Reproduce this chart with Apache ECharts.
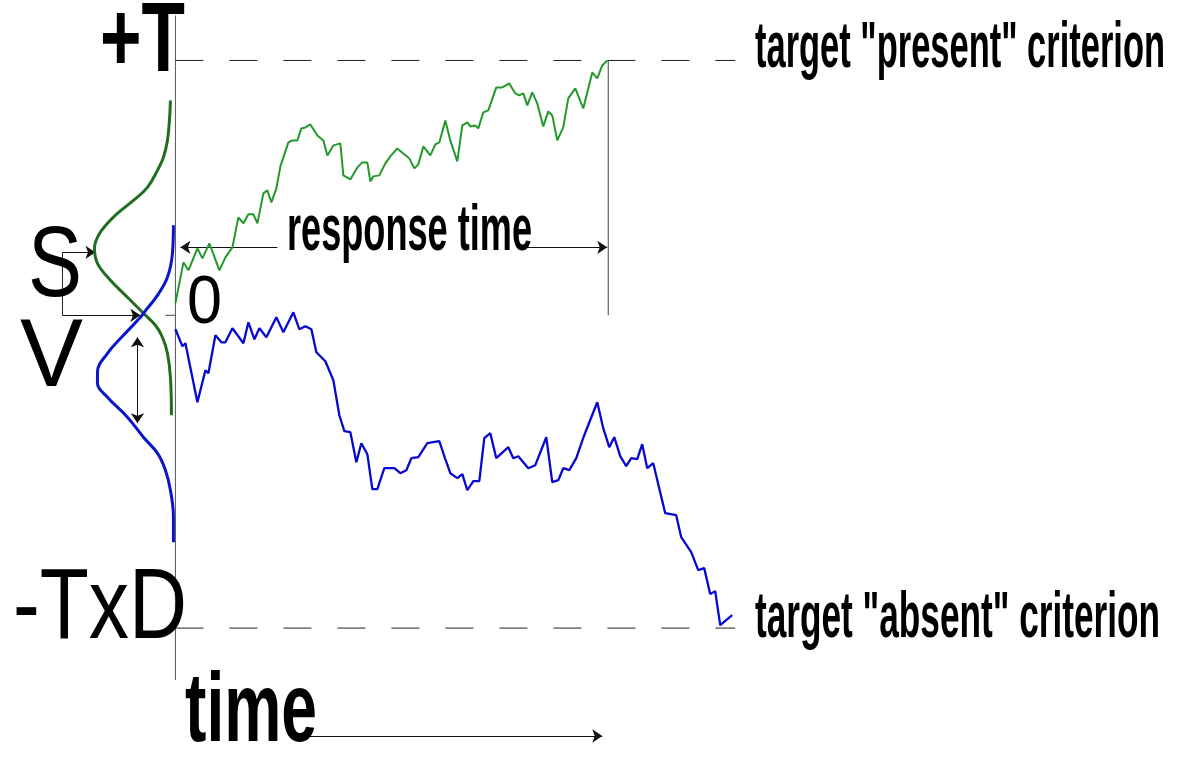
<!DOCTYPE html>
<html>
<head>
<meta charset="utf-8">
<title>diffusion model</title>
<script src="https://cdn.jsdelivr.net/npm/echarts@6/dist/echarts.min.js"></script>
<style>
  html, body { margin: 0; padding: 0; background: #fff; }
  #chart { width: 1191px; height: 764px; }
</style>
</head>
<body>
<div id="chart"></div>
<script>
// evidence units: 0 = start, +T = upper criterion, -TxD = lower criterion
const upperCriterion = 255
const lowerCriterion = -313
const criterionEnd = 560
const responseTime = 433

// evidence walks [time, evidence]
const greenWalk = [[0,12],[8,53],[13,45],[22,67],[27,57],[34,72],[44,45],[50,58],[57,68],[63,98],[68,92],[73,101],[78,101],[82,92],[88,122],[92,125],[96,113],[101,127],[105,149],[113,173],[117,175],[122,175],[126,187],[130,188],[135,191],[142,180],[148,175],[152,160],[158,170],[165,172],[168,140],[175,136],[182,148],[187,153],[192,153],[195,134],[198,139],[204,140],[210,152],[215,159],[222,167],[228,162],[234,157],[239,147],[243,151],[248,169],[255,160],[260,171],[264,173],[270,195],[275,175],[282,154],[287,190],[292,193],[295,189],[300,190],[303,187],[308,203],[313,205],[321,228],[327,228],[334,232],[340,222],[344,220],[348,222],[352,210],[357,223],[362,212],[368,189],[373,204],[377,200],[382,175],[388,188],[393,217],[400,227],[408,207],[417,243],[422,237],[427,250],[432,255]]
const blueWalk = [[0,-14],[7,-31],[10,-28],[22,-87],[30,-55],[33,-58],[40,-20],[46,-27],[50,-27],[57,-13],[68,-28],[73,-7],[79,-24],[84,-13],[91,-22],[101,-2],[108,-17],[118,3],[124,-14],[130,-11],[136,-14],[141,-37],[150,-46],[158,-65],[164,-100],[169,-116],[175,-117],[181,-147],[186,-128],[192,-139],[197,-174],[202,-174],[209,-153],[219,-153],[225,-158],[231,-155],[236,-143],[243,-142],[252,-128],[264,-126],[270,-144],[275,-158],[282,-163],[287,-159],[292,-175],[298,-166],[304,-166],[309,-123],[315,-118],[321,-143],[333,-132],[338,-143],[343,-141],[353,-153],[360,-150],[371,-122],[377,-167],[383,-165],[388,-153],[394,-155],[401,-143],[409,-120],[422,-87],[428,-113],[434,-132],[439,-122],[445,-141],[451,-151],[456,-143],[462,-144],[467,-129],[472,-153],[478,-148],[490,-198],[501,-200],[506,-222],[516,-237],[523,-255],[529,-253],[535,-279],[540,-276],[545,-310],[557,-300]]

// starting point distributions, drawn sideways [density (leftwards), evidence]
const greenStart = [[-5,215],[-6,195],[-8,175],[-12,158],[-18,145],[-28,128],[-42,115],[-58,102],[-68,92],[-77,80],[-81,67],[-78,52],[-65,35],[-48,18],[-32,2],[-20,-10],[-13,-22],[-8,-38],[-5,-62],[-4,-100]]
const blueStart = [[-2,90],[-3,62],[-8,38],[-18,20],[-32,2],[-35,-2],[-52,-20],[-68,-38],[-78,-57],[-78,-68],[-68,-82],[-48,-102],[-32,-122],[-18,-138],[-10,-155],[-5,-175],[-2,-202],[-2,-227]]

// arrows [from, to]
const singleArrows = [
  [[-113,63],[-80,63]],      // S mean
  [[-113,0],[-35,0]],        // S start
  [[102,68],[5,68]],         // response time, left part
  [[345,68],[432,68]],       // response time, right part
  [[132,-421],[427,-421]]    // time
]
const doubleArrows = [
  [[-38,-22],[-38,-108]]     // V spread
]

// text
const axisLabels = ['+T', '0', '-TxD']
const paramLabels = ['S', 'V']
const noteLabels = ['response time', 'time', 'target "present" criterion', 'target "absent" criterion']

// placement of each text: left, right, baseline, font size (px), weight
const axisLabelBox = [[100,185,78,98,'bold'],[187,222,328,68,'normal'],[13,187,645,100,'normal']]
const paramLabelBox = [[28,82,303,100,'normal'],[20,83,393,97,'normal']]
const noteLabelBox = [[287,532,255,65,'bold'],[185,317,748,98,'bold'],[755,1165,72,65,'bold'],[755,1160,642,65,'bold']]

const FONT = '"Liberation Sans", Arial, sans-serif'
const ctx = document.createElement('canvas').getContext('2d')

// squeezed text, the source uses a very condensed face
const makeText = (text, box) => {
  const [left, right, baseline, size, weight] = box
  const font = weight + ' ' + size + 'px ' + FONT
  ctx.font = font
  const w = ctx.measureText(text).width
  return {
    type: 'text',
    x: left,
    y: baseline - size * 0.3465,
    scaleX: (right - left) / w,
    z: 100,
    style: {
      text: text,
      font: font,
      fill: '#000',
      align: 'left',
      verticalAlign: 'middle',
      textAlign: 'left',
      textVerticalAlign: 'middle'
    }
  }
}

const graphic = []
axisLabels.forEach((t, i) => graphic.push(makeText(t, axisLabelBox[i])))
paramLabels.forEach((t, i) => graphic.push(makeText(t, paramLabelBox[i])))
noteLabels.forEach((t, i) => graphic.push(makeText(t, noteLabelBox[i])))

const plain = (data, color, width, extra) => Object.assign({
  type: 'line',
  data: data,
  symbol: 'none',
  silent: true,
  lineStyle: { color: color, width: width }
}, extra || {})

const dashed = { color: '#222', width: 1, type: [28, 26] }

const chart = echarts.init(document.getElementById('chart'), null, { renderer: 'canvas' })

const option = {
  animation: false,
  backgroundColor: '#fff',
  // half pixel shift keeps the 1px rules crisp
  grid: { left: 0.5, right: -0.5, top: 0.5, bottom: -0.5 },
  xAxis: { type: 'value', min: -175, max: 1016, show: false },
  yAxis: { type: 'value', min: -449, max: 315, show: false },
  graphic: graphic,
  series: [
    // evidence axis
    plain([[0,300],[0,-365]], '#555', 1),
    // criteria
    plain([[0,upperCriterion],[criterionEnd,upperCriterion]], '#222', 1, { lineStyle: dashed }),
    plain([[0,lowerCriterion],[criterionEnd,lowerCriterion]], '#222', 1, { lineStyle: dashed }),
    // response time marker
    plain([[responseTime,upperCriterion],[responseTime,0]], '#444', 1),
    // zero tick and S bracket
    plain([[-10,0],[0,0]], '#444', 1),
    plain([[-113,63],[-113,0]], '#222', 1),
    {
      type: 'lines',
      coordinateSystem: 'cartesian2d',
      silent: true,
      symbol: ['none', 'arrow'],
      symbolSize: 10,
      lineStyle: { color: '#111', width: 1, opacity: 1, curveness: 0 },
      data: singleArrows.map(c => ({ coords: c }))
    },
    {
      type: 'lines',
      coordinateSystem: 'cartesian2d',
      silent: true,
      symbol: ['arrow', 'arrow'],
      symbolSize: 10,
      lineStyle: { color: '#111', width: 1, opacity: 1, curveness: 0 },
      data: doubleArrows.map(c => ({ coords: c }))
    },
    // start distributions
    plain(greenStart, '#1f6e1f', 3, { smooth: 0.4, z: 3 }),
    plain(blueStart, '#0b16c8', 3, { smooth: 0.4, z: 4 }),
    // walks
    plain(greenWalk, '#22992a', 2, { z: 5 }),
    plain(blueWalk, '#0808d0', 2.3, { z: 5 })
  ]
}

chart.setOption(option)
window.addEventListener('resize', () => chart.resize())
</script>
</body>
</html>
